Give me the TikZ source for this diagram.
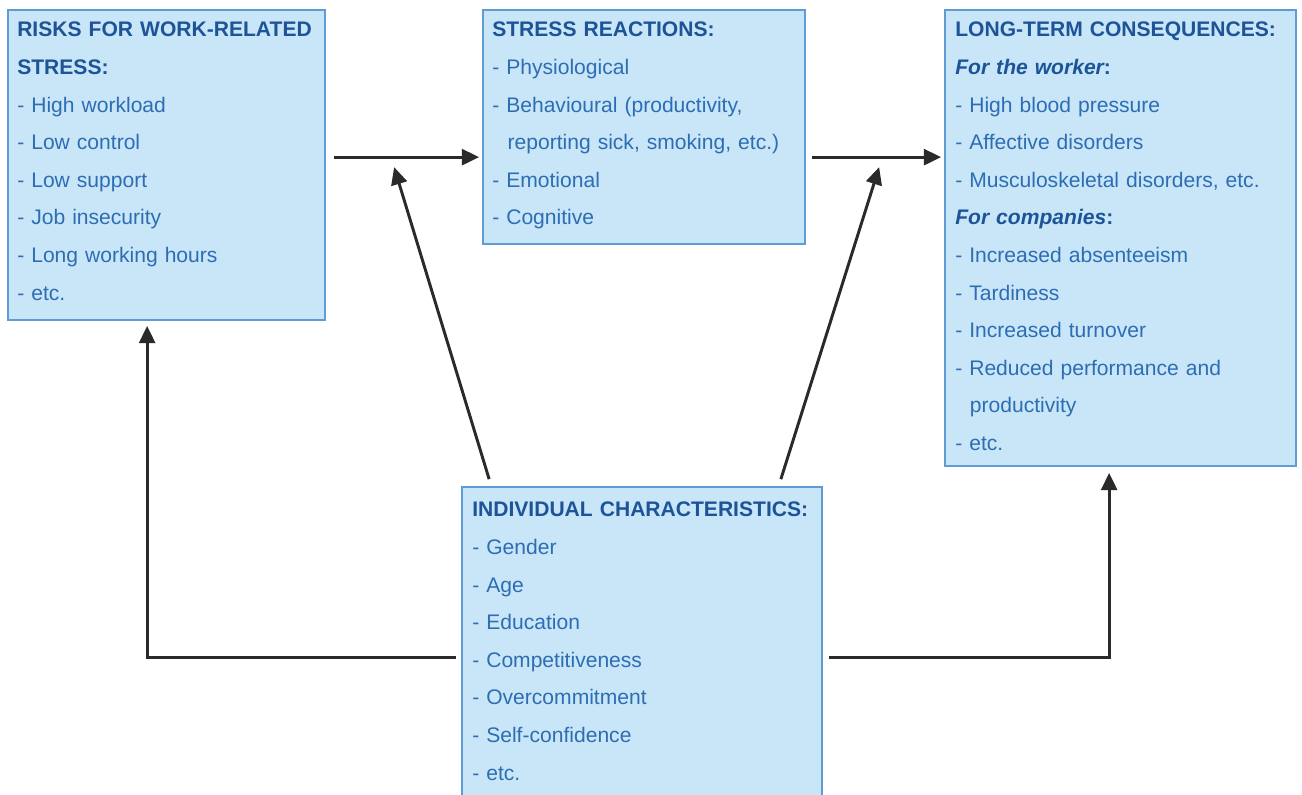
\documentclass[tikz,border=0pt]{standalone}
\usepackage{fontspec}
\setmainfont{Liberation Sans}
\usetikzlibrary{fit,calc,arrows.meta}
\hyphenpenalty=10000
\exhyphenpenalty=10000
\definecolor{boxfill}{HTML}{C8E6F8}
\definecolor{boxdraw}{HTML}{5E9CD3}
\definecolor{txtblue}{HTML}{2D6DB4}
\definecolor{titleblue}{HTML}{1D5498}
\definecolor{arrowgray}{HTML}{2A2A2A}
\newcommand{\ttl}[1]{{\bfseries\color{titleblue}#1}}
\newcommand{\sub}[1]{{\bfseries\itshape\color{titleblue}#1}}
\begin{document}
\begin{tikzpicture}[x=0.75pt,y=-0.75pt,
  box/.style={draw=boxdraw,fill=boxfill,line width=1.3pt,inner sep=0pt},
  txt/.style={anchor=north west,inner sep=0pt,text width=420*0.75pt,align=left,
    text=txtblue,font=\fontsize{15.8}{28.2}\selectfont},
  arr/.style={draw=arrowgray,line width=2.2pt,-{Triangle[length=13pt,width=12pt]}}]
\useasboundingbox (0,0) rectangle (1302,794);

\node[box,fit={(8,10) (325,320)}] (risk) {};
\node[box,fit={(483,10) (805,244)}] (react) {};
\node[box,fit={(945,10) (1296,466)}] (cons) {};
\node[box,fit={(462,487) (822,800)}] (indiv) {};

\node[txt] (risktxt) at (17,22) {\ttl{RISKS FOR WORK-RELATED}\\
\ttl{STRESS:}\\
- High workload\\
- Low control\\
- Low support\\
- Job insecurity\\
- Long working hours\\
- etc.};

\node[txt] (reacttxt) at (492,22) {\ttl{STRESS REACTIONS:}\\
- Physiological\\
- Behavioural (productivity,\\
\hspace*{11.5pt}reporting sick, smoking, etc.)\\
- Emotional\\
- Cognitive};

\node[txt] (constxt) at (955,22) {\ttl{LONG-TERM CONSEQUENCES:}\\
\sub{For the worker}{\bfseries\color{titleblue}:}\\
- High blood pressure\\
- Affective disorders\\
- Musculoskeletal disorders, etc.\\
\sub{For companies}{\bfseries\color{titleblue}:}\\
- Increased absenteeism\\
- Tardiness\\
- Increased turnover\\
- Reduced performance and\\
\hspace*{11pt}productivity\\
- etc.};

\node[txt] (indivtxt) at (472,502) {\ttl{INDIVIDUAL CHARACTERISTICS:}\\
- Gender\\
- Age\\
- Education\\
- Competitiveness\\
- Overcommitment\\
- Self-confidence\\
- etc.};

\draw[arr] ($(risk.north east)+(8,148)$) -- ($(react.north west)+(-3,148)$);
\draw[arr] ($(react.north east)+(6,148)$) -- ($(cons.north west)+(-3,148)$);
\draw[arr] ($(indiv.north west)+(28,-7)$) -- ($(react.north west)+(-88,158)$);
\draw[arr] ($(indiv.north east)+(-42,-7)$) -- ($(cons.north west)+(-65,158)$);
\draw[arr] ($(indiv.north west)+(-5,171)$) -| ($(risk.south west)+(140,5)$);
\draw[arr] ($(indiv.north east)+(6,171)$) -| ($(cons.south west)+(165,6)$);
\end{tikzpicture}
\end{document}
